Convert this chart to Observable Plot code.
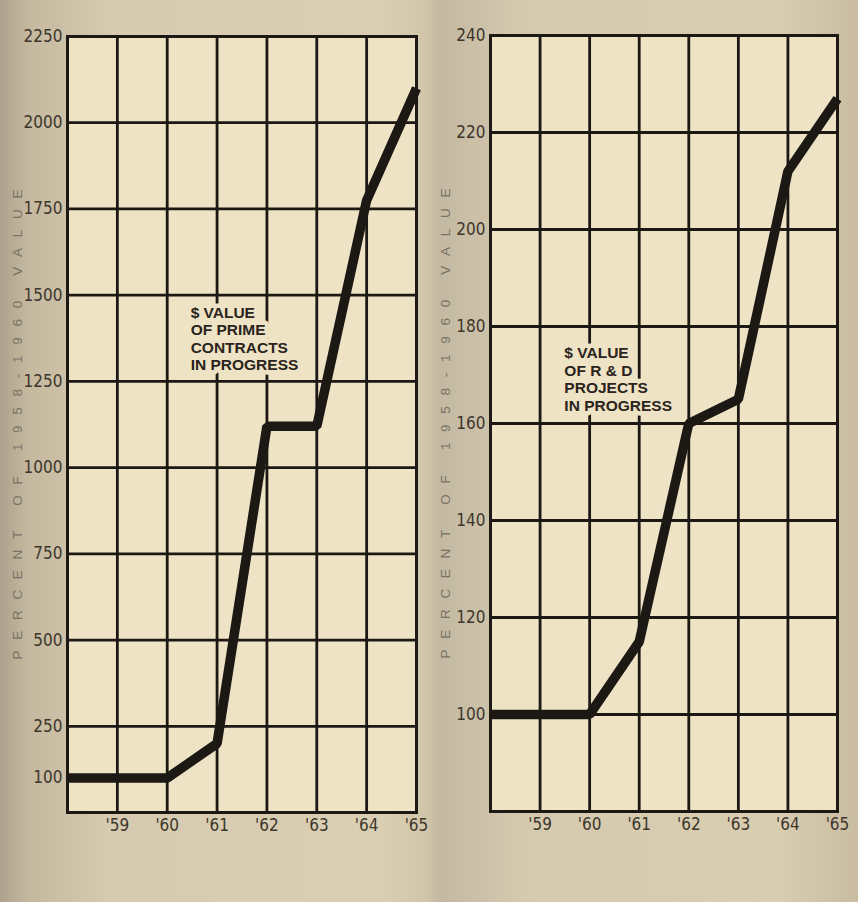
<!DOCTYPE html>
<html>
<head>
<meta charset="utf-8">
<script src="https://cdn.jsdelivr.net/npm/d3@7"></script>
<script src="https://cdn.jsdelivr.net/npm/@observablehq/plot@0.6"></script>
<style>
html, body { margin: 0; padding: 0; }
#page {
  position: relative; width: 858px; height: 902px; overflow: hidden;
  background: linear-gradient(90deg, #ada28d 0px, #c4b89f 28px, #d6cab0 110px, #dacfb3 380px, #d2c6aa 425px, #c3b8a1 440px, #d5c9af 520px, #d9cdb1 780px, #c9bca1 858px);
}
.panel { position: absolute; top: 0; }
</style>
</head>
<body>
<div id="page">
  <div class="panel" id="left" style="left:0px"></div>
  <div class="panel" id="right" style="left:429px"></div>
</div>
<script>
// ---- data ----
const years = [1958, 1959, 1960, 1961, 1962, 1963, 1964, 1965];
const primeValues = [100, 100, 100, 200, 1120, 1120, 1775, 2100];
const rdValues = [100, 100, 100, 115, 160, 165, 212, 227];
const xTicks = [1959, 1960, 1961, 1962, 1963, 1964, 1965];
const xTickLabels = ["'59", "'60", "'61", "'62", "'63", "'64", "'65"];
const primeTicks = [100, 250, 500, 750, 1000, 1250, 1500, 1750, 2000, 2250];
const primeGrid = [250, 500, 750, 1000, 1250, 1500, 1750, 2000];
const rdTicks = [100, 120, 140, 160, 180, 200, 220, 240];
const rdGrid = [100, 120, 140, 160, 180, 200, 220];
const gridYears = [1959, 1960, 1961, 1962, 1963, 1964];
const yTitle = "PERCENT OF 1958-1960 VALUE";
const primeNote = ["$ VALUE", "OF PRIME", "CONTRACTS", "IN PROGRESS"];
const rdNote = ["$ VALUE", "OF R & D", "PROJECTS", "IN PROGRESS"];

const ink = "#1c1814";
const paper = "#efe3c5";
const labelInk = "#3d362c";
const titleInk = "#7a7262";
const tickFont = "'Liberation Sans Narrow', 'DejaVu Sans Condensed', sans-serif";

function panel({values, yDomain, yTicks, yGrid, note, noteX, noteY, marginLeft, marginRight, marginTop, marginBottom, titleDx}) {
  const data = years.map((y, i) => ({year: y, value: values[i]}));
  const svg = Plot.plot({
    width: 429,
    height: 902,
    marginLeft, marginRight, marginTop, marginBottom,
    style: {background: "transparent", fontFamily: tickFont, fontSize: "17px", color: labelInk},
    x: {domain: [1958, 1965]},
    y: {domain: yDomain},
    marks: [
      Plot.frame({fill: paper, stroke: null}),
      Plot.ruleY(yGrid, {stroke: ink, strokeWidth: 2.8}),
      Plot.ruleX(gridYears, {stroke: ink, strokeWidth: 2.8}),
      Plot.text([note.join("\n")], {
        x: noteX, y: noteY, textAnchor: "start", lineAnchor: "top",
        fontFamily: "'Liberation Sans', Arial, sans-serif", fontWeight: "bold", fontSize: 15.5, lineHeight: 1.13,
        fill: "#2a241d", stroke: paper, strokeWidth: 9, paintOrder: "stroke"
      }),
      Plot.line(data, {x: "year", y: "value", stroke: ink, strokeWidth: 9.5, strokeLinejoin: "miter", strokeLinecap: "butt"}),
      Plot.frame({stroke: ink, strokeWidth: 3}),
      Plot.text([yTitle], {
        frameAnchor: "left", textAnchor: "middle", lineAnchor: "middle", rotate: -90, dx: titleDx, fill: titleInk,
        fontFamily: "'Liberation Sans', Arial, sans-serif", fontSize: 13.5
      }),
      Plot.axisX(xTicks, {
        tickSize: 0, tickPadding: 6, label: null, fontSize: 17, fill: labelInk,
        tickFormat: (d) => xTickLabels[xTicks.indexOf(d)]
      }),
      Plot.axisY(yTicks, {tickSize: 0, tickPadding: 5, label: null, fontSize: 17, fill: labelInk, tickFormat: (d) => String(d)})
    ]
  });
  d3.select(svg).selectAll("text")
    .filter(function () { return this.textContent === yTitle; })
    .attr("textLength", 470)
    .attr("lengthAdjust", "spacing");
  return svg;
}

document.getElementById("left").append(panel({
  values: primeValues, yDomain: [0, 2250], yTicks: primeTicks, yGrid: primeGrid,
  note: primeNote, noteX: 1960.47, noteY: 1470,
  marginLeft: 67, marginRight: 13, marginTop: 36, marginBottom: 90, titleDx: -50
}));

document.getElementById("right").append(panel({
  values: rdValues, yDomain: [80, 240], yTicks: rdTicks, yGrid: rdGrid,
  note: rdNote, noteX: 1959.49, noteY: 176,
  marginLeft: 61, marginRight: 21, marginTop: 35, marginBottom: 91, titleDx: -45
}));
</script>
</body>
</html>
